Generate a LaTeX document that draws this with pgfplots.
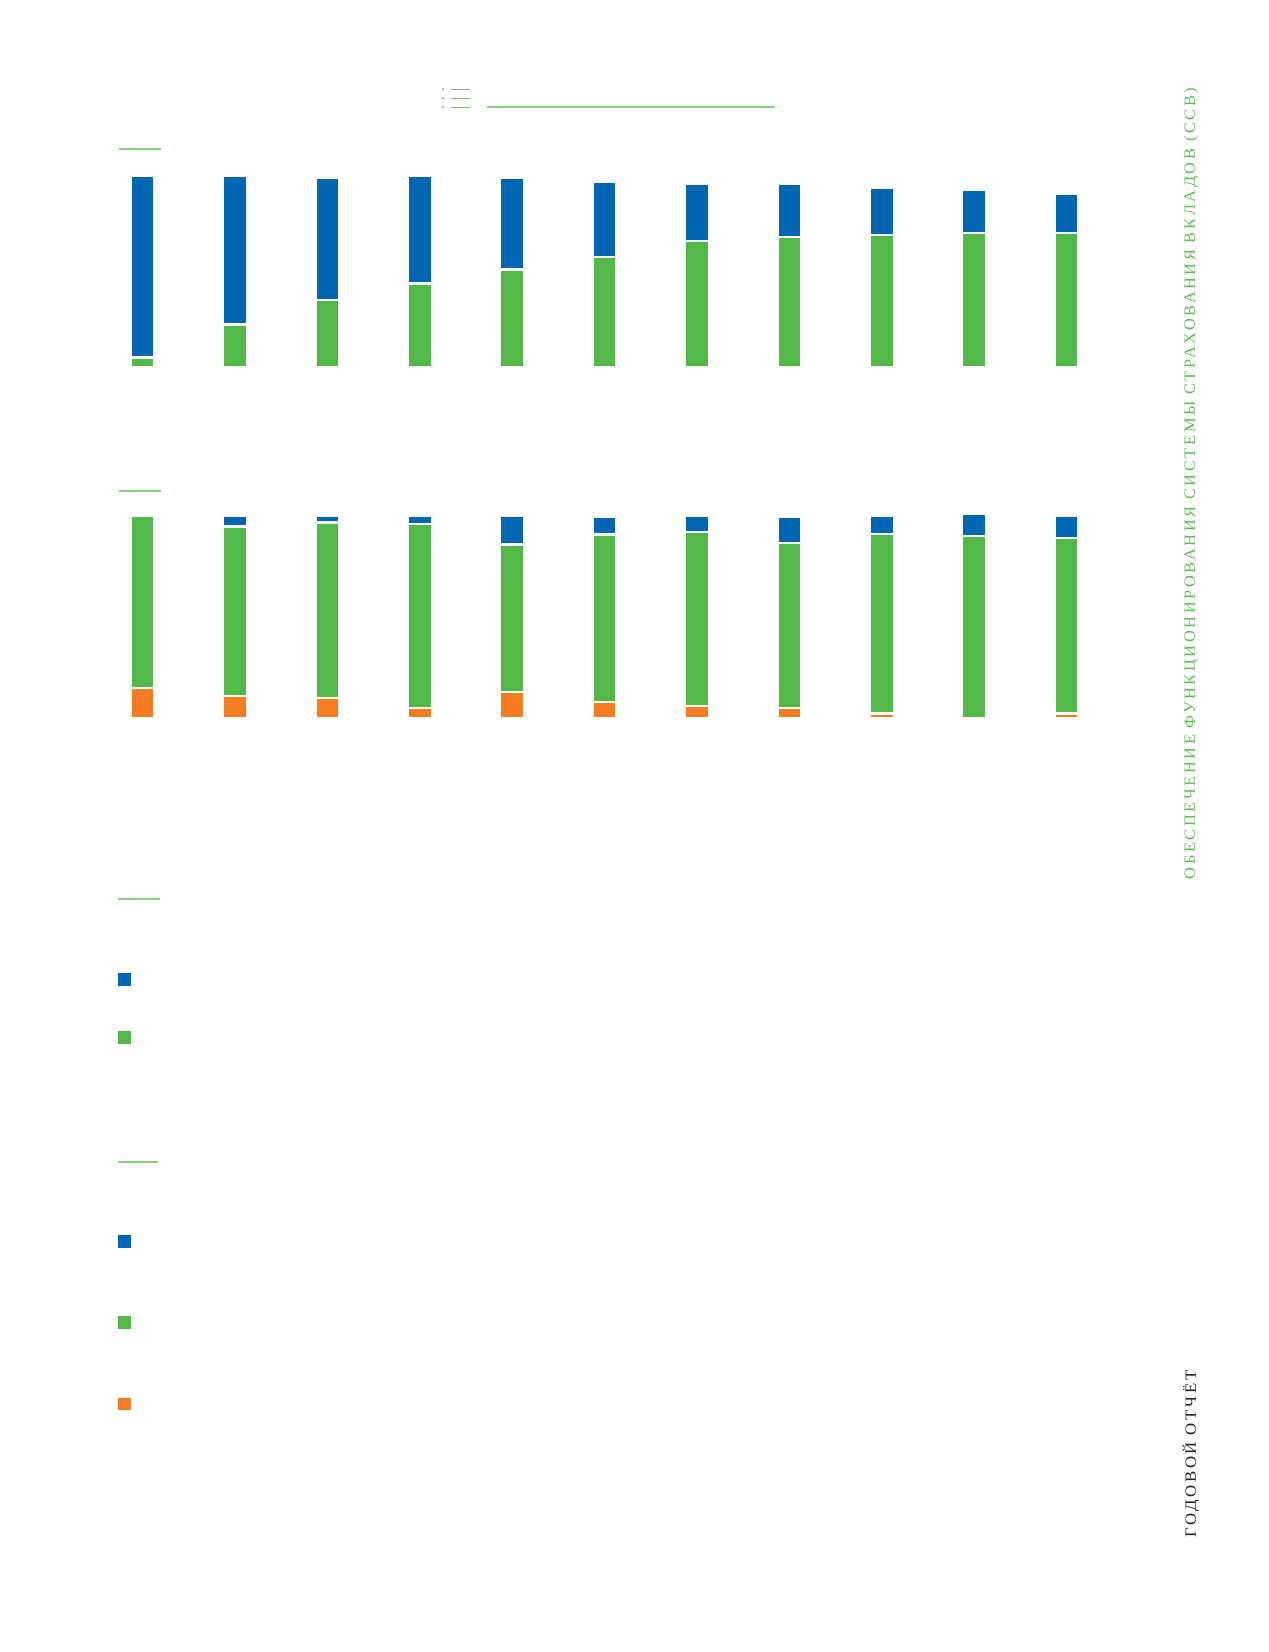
\documentclass[border=0pt]{standalone}
\usepackage{pgfplots}
\usepackage{pgfplotstable}
\pgfplotsset{compat=1.18}
\usepackage{fontspec}
\setmainfont{Liberation Serif}
\definecolor{cblue}{RGB}{0,101,179}
\definecolor{cgreen}{RGB}{82,184,72}
\definecolor{corange}{RGB}{245,124,32}
\definecolor{lgreen}{RGB}{140,205,130}
\definecolor{tgreen}{RGB}{95,185,85}
\definecolor{tblack}{RGB}{35,31,32}

\pgfplotstableread{
x green blue
0 9.9 181.8
1 42.9 148.8
2 67.5 121.6
3 83.9 107.8
4 97.9 91.2
5 110.2 74.9
6 126.5 56.6
7 130.5 52.6
8 132.5 47.2
9 134.5 43.2
10 134.5 39.2
}\topdata

\pgfplotstableread{
x orange green blue
0 30.5 171.9 0
1 22.4 169.3 10.7
2 20.2 175.5 6.7
3 10.4 183.6 8.4
4 26.4 147.3 28.7
5 16.4 167.3 18.0
6 12.4 174.1 15.9
7 10.4 165.0 25.7
8 4.7 179.5 17.9
9 0 182.2 22.2
10 4.7 175.5 22.2
}\botdata

\pgfplotsset{
  barstyle/.style={
    hide axis, scale only axis, width=508.2pt,
    xmin=-0.5, xmax=10.5, ymin=0,
    ybar stacked, bar width=12pt, enlargelimits=false, clip=false,
    legend image code/.code={\fill[##1] (0pt,-3.8pt) rectangle (7.6pt,3.8pt);},
    legend style={draw=none, fill=none, inner sep=0pt, outer sep=0pt,
      anchor=north west, nodes={inner sep=0pt, outer sep=0pt},
      /tikz/column sep=0pt},
    reverse legend,
  }
}

\begin{document}
\begin{tikzpicture}
\path[use as bounding box] (0,0) rectangle (634pt,-826pt);

% top chart
\begin{axis}[barstyle, at={(48.15pt,-183.6pt)}, anchor=south west,
  height=100pt, ymax=200,
  legend style={at={(0.0194,-3.018)}, row sep=20pt}]
\addplot[fill=cgreen, draw=white, line width=1.2pt] table[x=x,y=green]{\topdata};
\addlegendentry{}
\addplot[fill=cblue, draw=white, line width=1.2pt] table[x=x,y=blue]{\topdata};
\addlegendentry{}
\end{axis}

% bottom chart
\begin{axis}[barstyle, at={(48.15pt,-359.1pt)}, anchor=south west,
  height=105pt, ymax=210,
  legend style={at={(0.0194,-2.450)}, row sep=31.8pt}]
\addplot[fill=corange, draw=white, line width=1.2pt] table[x=x,y=orange]{\botdata};
\addlegendentry{}
\addplot[fill=cgreen, draw=white, line width=1.2pt] table[x=x,y=green]{\botdata};
\addlegendentry{}
\addplot[fill=cblue, draw=white, line width=1.2pt] table[x=x,y=blue]{\botdata};
\addlegendentry{}
\end{axis}

% decorations
\fill[lgreen!90!black] (221.5pt,-44.65pt) circle (0.6pt);
\fill[lgreen!90!black] (221.5pt,-49.15pt) circle (0.6pt);
\fill[lgreen!90!black] (221.5pt,-53.65pt) circle (0.6pt);
\draw[lgreen!90!black, line width=0.7pt] (225.5pt,-44.65pt) -- (235pt,-44.65pt);
\draw[lgreen!90!black, line width=0.7pt] (225.5pt,-49.15pt) -- (235pt,-49.15pt);
\draw[lgreen!90!black, line width=0.7pt] (225.5pt,-53.65pt) -- (235pt,-53.65pt);
\draw[lgreen, line width=1.2pt] (243.35pt,-53.65pt) -- (387.5pt,-53.65pt);
\draw[lgreen, line width=1pt] (59.5pt,-74.7pt) -- (80.5pt,-74.7pt);
\draw[lgreen, line width=1pt] (59.5pt,-245.25pt) -- (80.5pt,-245.25pt);
\draw[lgreen, line width=1pt] (59pt,-449.5pt) -- (80pt,-449.5pt);
\draw[lgreen, line width=1pt] (59pt,-581pt) -- (79pt,-581pt);

% side texts
\node[rotate=90, text=tgreen, inner sep=0pt] at (595.5pt,-241.75pt)
  {\resizebox{395.7pt}{\height}{\fontsize{7.8}{10}\selectfont\addfontfeature{LetterSpace=16}ОБЕСПЕЧЕНИЕ ФУНКЦИОНИРОВАНИЯ СИСТЕМЫ СТРАХОВАНИЯ ВКЛАДОВ (ССВ)}};
\node[rotate=90, text=tblack, inner sep=0pt] at (595.5pt,-727pt)
  {\resizebox{83.5pt}{\height}{\fontsize{7.8}{10}\selectfont\addfontfeature{LetterSpace=16}ГОДОВОЙ ОТЧЁТ}};
\end{tikzpicture}
\end{document}
